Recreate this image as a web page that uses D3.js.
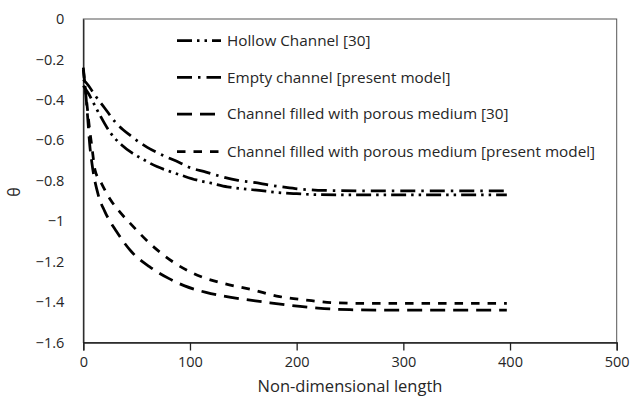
<!DOCTYPE html>
<html><head><meta charset="utf-8">
<script src="https://cdn.jsdelivr.net/npm/d3@7"></script>
<style>body{margin:0;background:#fff;} svg{display:block;}</style>
</head><body><svg id="c" width="633" height="399"></svg>
<script>
// ---- data ----
const hollowX = [0, 5, 10, 15, 25, 36, 45, 56, 69, 80, 92, 106, 120, 135, 150, 165, 180, 200, 220, 250, 300, 350, 397];
const hollowY = [-0.33, -0.37, -0.42, -0.47, -0.56, -0.623, -0.66, -0.694, -0.73, -0.752, -0.773, -0.796, -0.812, -0.83, -0.84, -0.848, -0.857, -0.864, -0.869, -0.87, -0.87, -0.87, -0.87];
const emptyX = [0, 5, 10, 20, 30, 45, 60, 75, 90, 100, 115, 130, 145, 160, 175, 190, 205, 220, 240, 270, 300, 350, 397];
const emptyY = [-0.30, -0.33, -0.37, -0.44, -0.51, -0.58, -0.635, -0.675, -0.71, -0.735, -0.757, -0.78, -0.798, -0.808, -0.822, -0.833, -0.842, -0.847, -0.849, -0.85, -0.85, -0.85, -0.85];
const porous30X = [0, 2, 4, 6, 8, 14, 20, 31, 45, 62, 80, 95, 115, 140, 170, 190, 220, 250, 280, 330, 397];
const porous30Y = [-0.24, -0.35, -0.48, -0.62, -0.71, -0.87, -0.95, -1.05, -1.15, -1.225, -1.283, -1.32, -1.352, -1.378, -1.40, -1.414, -1.43, -1.438, -1.44, -1.44, -1.44];
const porousPmX = [0, 3, 6, 8, 11, 17, 25, 34, 44, 64, 86, 100, 110, 131, 159, 184, 209, 234, 259, 330, 397];
const porousPmY = [-0.25, -0.40, -0.55, -0.63, -0.747, -0.813, -0.89, -0.953, -1.011, -1.118, -1.208, -1.25, -1.274, -1.307, -1.34, -1.373, -1.39, -1.403, -1.406, -1.406, -1.406];
const seriesNames = ["Hollow Channel [30]", "Empty channel [present model]", "Channel filled with porous medium [30]", "Channel filled with porous medium [present model]"];
const xTicks = [0, 100, 200, 300, 400, 500];
const yTicks = [0, -0.2, -0.4, -0.6, -0.8, -1, -1.2, -1.4, -1.6];
const xTitle = "Non-dimensional length";
const yTitle = "θ";

// ---- layout ----
const L = 83.3, R = 616.7, T = 19, B = 342.5;
const FONT = "'Open Sans', Lato, sans-serif";
const TXT = "#262626";
const svg = d3.select("#c");
const x = d3.scaleLinear().domain([0, 500]).range([L, R]);
const y = d3.scaleLinear().domain([-1.6, 0]).range([B, T]);

const dashes = ["15,5,2.5,5,2.5,5", "15,6,2.5,6", "15,8", "8.5,8"];
const series = [
  {xs: hollowX, ys: hollowY},
  {xs: emptyX, ys: emptyY},
  {xs: porous30X, ys: porous30Y},
  {xs: porousPmX, ys: porousPmY}
];

// frame
svg.append("rect").attr("x", L).attr("y", T).attr("width", R - L).attr("height", B - T)
  .attr("fill", "none").attr("stroke", "#555").attr("stroke-width", 1);

// x axis
const gx = svg.append("g").attr("transform", `translate(0,${B})`)
  .call(d3.axisBottom(x).tickValues(xTicks).tickSize(8).tickPadding(6).tickFormat(d3.format("d")));
gx.select(".domain").attr("stroke", "#222").attr("stroke-width", 1.3);
gx.selectAll(".tick line").attr("stroke", "#222").attr("stroke-width", 1.3);
gx.selectAll("text").attr("font-family", FONT).attr("font-size", 14.5).attr("fill", TXT);

// y axis
const gy = svg.append("g").attr("transform", `translate(${L},0)`)
  .call(d3.axisLeft(y).tickValues(yTicks).tickSize(0).tickPadding(19).tickFormat(d => d3.format("")(+d.toFixed(1))));
gy.select(".domain").attr("stroke", "#222").attr("stroke-width", 1.3);
gy.selectAll("text").attr("font-family", FONT).attr("font-size", 14.5).attr("fill", TXT);

// titles
svg.append("text").attr("x", (L + R) / 2).attr("y", 392).attr("text-anchor", "middle")
  .attr("font-family", FONT).attr("font-size", 16.5).attr("fill", TXT).text(xTitle);
svg.append("text").attr("transform", "translate(20,192) rotate(-90)").attr("text-anchor", "middle")
  .attr("font-family", FONT).attr("font-size", 16).attr("fill", TXT).text(yTitle);

// lines
const line = d3.line().x(d => x(d[0])).y(d => y(d[1])).curve(d3.curveMonotoneX);
series.forEach((s, i) => {
  const pts = s.xs.map((v, k) => [v, s.ys[k]]);
  svg.append("path").datum(pts).attr("d", line).attr("fill", "none")
    .attr("stroke", "#000").attr("stroke-width", 2.75).attr("stroke-dasharray", dashes[i]);
});

// legend
const legY = [40.7, 77.3, 114, 151.7];
seriesNames.forEach((n, i) => {
  svg.append("line").attr("x1", 177).attr("x2", 221).attr("y1", legY[i]).attr("y2", legY[i])
    .attr("stroke", "#000").attr("stroke-width", 2.75).attr("stroke-dasharray", dashes[i]);
  svg.append("text").attr("x", 227).attr("y", legY[i]).attr("dy", "0.35em")
    .attr("font-family", FONT).attr("font-size", 15.3).attr("fill", TXT).text(n);
});
</script></body></html>
